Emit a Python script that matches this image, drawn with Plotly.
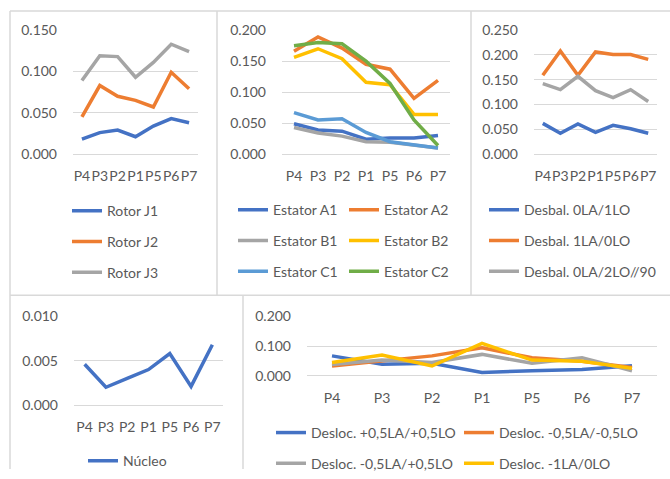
import plotly.graph_objects as go

W, H = 670, 479
# the photographed page shows the figure shifted down and slightly squeezed
# vertically; layout positions below are given in picture pixels and mapped
OFF_Y, SCALE_Y = 8, 0.953

# ---------------------------------------------------------
# Data
# ---------------------------------------------------------
cats = ["P4", "P3", "P2", "P1", "P5", "P6", "P7"]

rotor_j1 = [0.018, 0.026, 0.029, 0.021, 0.034, 0.043, 0.038]
rotor_j2 = [0.045, 0.083, 0.070, 0.065, 0.057, 0.099, 0.079]
rotor_j3 = [0.089, 0.119, 0.118, 0.093, 0.111, 0.133, 0.124]

estator_a1 = [0.049, 0.039, 0.037, 0.024, 0.026, 0.026, 0.030]
estator_a2 = [0.166, 0.189, 0.171, 0.145, 0.137, 0.090, 0.119]
estator_b1 = [0.043, 0.034, 0.029, 0.020, 0.019, 0.014, 0.010]
estator_b2 = [0.156, 0.170, 0.154, 0.116, 0.112, 0.064, 0.064]
estator_c1 = [0.067, 0.055, 0.057, 0.035, 0.020, 0.015, 0.010]
estator_c2 = [0.175, 0.180, 0.178, 0.150, 0.114, 0.055, 0.014]

desbal_0la_1lo = [0.062, 0.042, 0.061, 0.044, 0.058, 0.051, 0.042]
desbal_1la_0lo = [0.159, 0.208, 0.159, 0.206, 0.201, 0.201, 0.191]
desbal_0la_2lo = [0.142, 0.130, 0.157, 0.128, 0.114, 0.130, 0.106]

nucleo = [0.0046, 0.0020, 0.0030, 0.0040, 0.0058, 0.0021, 0.0068]

desloc_pp = [0.067, 0.039, 0.042, 0.011, 0.017, 0.021, 0.034]
desloc_mm = [0.033, 0.051, 0.067, 0.094, 0.061, 0.049, 0.028]
desloc_mp = [0.038, 0.053, 0.045, 0.072, 0.042, 0.061, 0.017]
desloc_m1 = [0.045, 0.070, 0.033, 0.109, 0.053, 0.049, 0.025]

# ---------------------------------------------------------
# Style
# ---------------------------------------------------------
BLUE, ORANGE, GRAY, YELLOW, LBLUE, GREEN = (
    "#4472C4", "#ED7D31", "#A5A5A5", "#FFC000", "#5B9BD5", "#70AD47")
TXT = "#595959"
GRID = "#D9D9D9"
FONT = "Lato"
FS = 14
LW = 3.5


def px(x):
    return x / W


def fy(y):
    # picture row -> figure row
    return (y - OFF_Y) / SCALE_Y


def py(y):
    return min(1.0, max(0.0, 1 - fy(y) / H))


fig = go.Figure()

# (axis suffix, legend name, name, values, color)
series = [
    ("", "legend", "Rotor J1", rotor_j1, BLUE),
    ("", "legend", "Rotor J2", rotor_j2, ORANGE),
    ("", "legend", "Rotor J3", rotor_j3, GRAY),
    ("2", "legend2", "Estator A1", estator_a1, BLUE),
    ("2", "legend3", "Estator A2", estator_a2, ORANGE),
    ("2", "legend2", "Estator B1", estator_b1, GRAY),
    ("2", "legend3", "Estator B2", estator_b2, YELLOW),
    ("2", "legend2", "Estator C1", estator_c1, LBLUE),
    ("2", "legend3", "Estator C2", estator_c2, GREEN),
    ("3", "legend4", "Desbal. 0LA/1LO", desbal_0la_1lo, BLUE),
    ("3", "legend4", "Desbal. 1LA/0LO", desbal_1la_0lo, ORANGE),
    ("3", "legend4", "Desbal. 0LA/2LO//90", desbal_0la_2lo, GRAY),
    ("4", "legend5", "Núcleo", nucleo, BLUE),
    ("5", "legend6", "Desloc. +0,5LA/+0,5LO", desloc_pp, BLUE),
    ("5", "legend7", "Desloc. -0,5LA/-0,5LO", desloc_mm, ORANGE),
    ("5", "legend6", "Desloc. -0,5LA/+0,5LO", desloc_mp, GRAY),
    ("5", "legend7", "Desloc. -1LA/0LO", desloc_m1, YELLOW),
]

for ax, lg, name, vals, col in series:
    fig.add_trace(go.Scatter(
        x=cats, y=vals, name=name, mode="lines",
        line=dict(color=col, width=LW),
        xaxis="x" + ax, yaxis="y" + ax,
        legend=lg, legendgroup=name,
    ))

# panel boxes in pixels: (left, right, bottom, top), y max, dtick
panels = [
    ("", (73, 198, 152, 29), 0.15, 0.05),
    ("2", (282, 450, 152, 29), 0.20, 0.05),
    ("3", (534, 657, 152, 29), 0.25, 0.05),
    ("4", (74, 223, 401, 313), 0.010, 0.005),
    ("5", (307, 657, 372, 313), 0.20, 0.10),
]

layout = {}
for ax, (l, r, b, t), ymax, dt in panels:
    layout["xaxis" + ax] = dict(
        domain=[px(l), px(r)], anchor="y" + ax, type="category",
        range=[-0.5, len(cats) - 0.5],
        showgrid=False, showline=False, zeroline=False, tickangle=0,
        ticks="", ticklabelstandoff=12,
        tickfont=dict(family=FONT, size=FS, color=TXT), fixedrange=True,
    )
    layout["yaxis" + ax] = dict(
        domain=[py(b), py(t)], anchor="x" + ax, range=[0, ymax], dtick=dt,
        tickformat=".3f", showgrid=True, gridcolor=GRID, gridwidth=1,
        zeroline=True, zerolinecolor=GRID, zerolinewidth=1, showline=False,
        ticks="", ticklabelstandoff=15,
        tickfont=dict(family=FONT, size=FS, color=TXT), fixedrange=True,
    )
fig.update_layout(**layout)

# legends: (name, sample left px, first row center px)
legends = [
    ("legend", 71, 210),
    ("legend2", 237, 209),
    ("legend3", 348, 209),
    ("legend4", 488, 209),
    ("legend5", 87, 458),
    ("legend6", 275, 430),
    ("legend7", 463, 430),
]
leg_layout = {}
for name, x0, y0 in legends:
    top = 1 - (fy(y0) - 18) / H
    leg_layout[name] = dict(
        x=px(x0 - 4), y=top, xanchor="left", yanchor="top",
        orientation="v", tracegroupgap=9.5, bgcolor="rgba(0,0,0,0)",
        font=dict(family=FONT, size=FS, color=TXT), itemwidth=30,
    )
fig.update_layout(**leg_layout)

# panel borders
border = dict(color="#D9D9D9", width=1.5)
for x0, y0, x1, y1 in [
    (10, 10, 670, 10),      # top
    (10, 10, 10, 479),      # left
    (10, 292, 670, 292),    # row divider
    (217, 10, 217, 292),
    (471, 10, 471, 292),
    (243, 292, 243, 479),
]:
    fig.add_shape(type="line", xref="paper", yref="paper",
                  x0=px(x0), y0=py(y0), x1=px(x1), y1=py(y1), line=border)

fig.update_layout(
    width=W, height=H,
    margin=dict(l=0, r=0, t=0, b=0),
    paper_bgcolor="white", plot_bgcolor="white",
    font=dict(family=FONT, size=FS, color=TXT),
    showlegend=True,
)

fig.write_html(
    "out.html",
    config={"displayModeBar": False},
    post_script=("document.documentElement.style.margin='0';"
                 "document.body.style.margin='0';"
                 "document.body.style.overflow='hidden';"),
)
